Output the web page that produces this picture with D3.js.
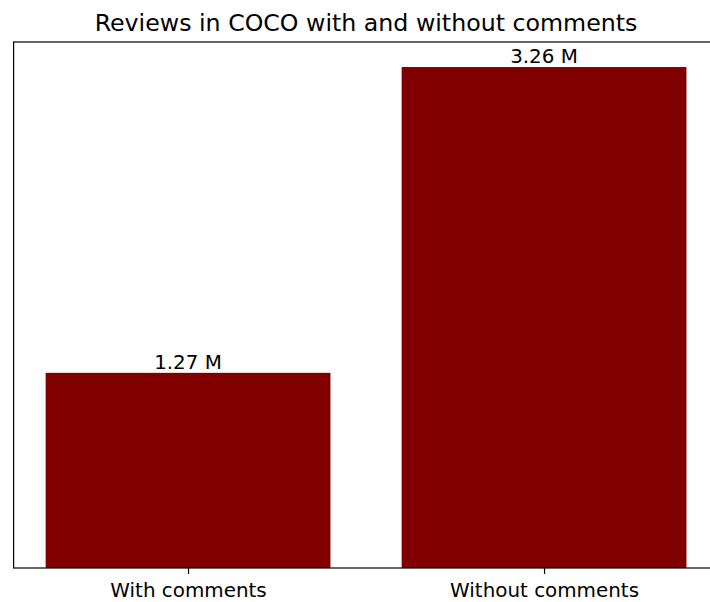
<!DOCTYPE html>
<html><head><meta charset="utf-8">
<script src="https://cdn.jsdelivr.net/npm/d3@7"></script>
<style>body{margin:0;background:#fff;} svg{display:block;}</style>
</head><body>
<svg id="c" width="710" height="602"></svg>
<script>
const categories = ["With comments", "Without comments"];
const values = [1.27, 3.26];
const labels = ["1.27 M", "3.26 M"];
const title = "Reviews in COCO with and without comments";

(function () {
const svg = d3.select("#c");
const mLeft = 13.6, mTop = 42, mBottom = 568;
const n = categories.length;
const xmin = -0.4, xmax = n - 1 + 0.4, pad = (xmax - xmin) * 0.05;
const pxPerUnit = 356;
const x = d3.scaleLinear().domain([xmin - pad, xmax + pad])
  .range([mLeft, mLeft + (xmax - xmin + 2 * pad) * pxPerUnit]);
const y = d3.scaleLinear().domain([0, d3.max(values) * 1.05]).range([mBottom, mTop]);
const font = "DejaVu Sans, sans-serif";
const fs = 19.9;

svg.selectAll("rect.bar").data(values).join("rect")
  .attr("class", "bar")
  .attr("x", (d, i) => x(i - 0.4))
  .attr("width", (d, i) => x(i + 0.4) - x(i - 0.4))
  .attr("y", d => y(d))
  .attr("height", d => y(0) - y(d))
  .attr("fill", "#800000");

svg.selectAll("text.lbl").data(values).join("text")
  .attr("class", "lbl")
  .attr("x", (d, i) => x(i))
  .attr("y", d => y(d) - 4)
  .attr("text-anchor", "middle")
  .attr("font-family", font).attr("font-size", fs)
  .attr("fill", "#000")
  .text((d, i) => labels[i]);

const xAxis = d3.axisBottom(x).tickValues(d3.range(n))
  .tickFormat(i => categories[i]).tickSize(6).tickPadding(8.8);
const gx = svg.append("g").attr("transform", `translate(0,${mBottom})`).call(xAxis);
gx.select(".domain").remove();
gx.selectAll("text").attr("font-family", font).attr("font-size", fs).attr("fill", "#000");
gx.selectAll("line").attr("stroke", "#000").attr("stroke-width", 1.2);

const [x0, x1] = x.range();
svg.append("rect").attr("x", x0).attr("y", mTop).attr("width", x1 - x0).attr("height", mBottom - mTop)
  .attr("fill", "none").attr("stroke", "#000").attr("stroke-width", 1.2);

svg.append("text").attr("x", 366).attr("y", 30.5)
  .attr("text-anchor", "middle").attr("font-family", font).attr("font-size", 23.7)
  .attr("fill", "#000").text(title);
})();
</script>
</body></html>
